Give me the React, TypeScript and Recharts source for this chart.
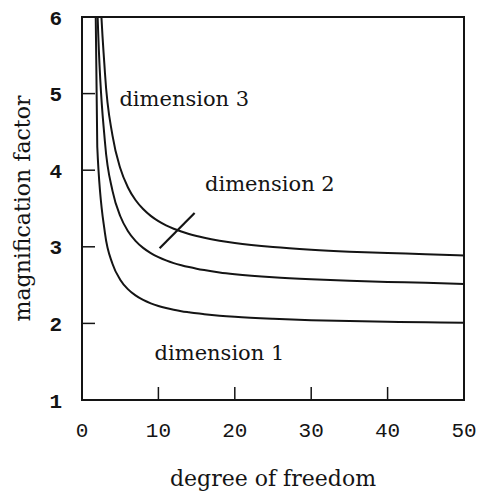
import { LineChart, Line, XAxis, YAxis, ReferenceArea, ReferenceLine, ReferenceDot } from 'recharts';

// degrees of freedom and magnification factor per dimension
const dof = [1, 2, 3, 4, 5, 6, 7, 8, 9, 10, 11, 12, 13, 14, 15, 16, 18, 20, 25, 30, 35, 40, 45, 50];
const dim1 = [12.71, 4.303, 3.182, 2.776, 2.571, 2.447, 2.365, 2.306, 2.262, 2.228, 2.201, 2.179, 2.160, 2.145, 2.131, 2.120, 2.101, 2.086, 2.060, 2.042, 2.030, 2.021, 2.014, 2.009];
const dim2 = [19.97, 6.164, 4.371, 3.727, 3.402, 3.207, 3.078, 2.986, 2.918, 2.865, 2.822, 2.787, 2.759, 2.735, 2.714, 2.696, 2.666, 2.643, 2.602, 2.575, 2.556, 2.542, 2.531, 2.515];
const dim3 = [25.44, 7.582, 5.276, 4.447, 4.028, 3.778, 3.611, 3.493, 3.404, 3.335, 3.280, 3.236, 3.199, 3.167, 3.140, 3.117, 3.079, 3.049, 2.996, 2.961, 2.936, 2.918, 2.904, 2.885];

const xTicks = [0, 10, 20, 30, 40, 50];
const yTicks = [1, 2, 3, 4, 5, 6];

// annotation anchors in data units (left edge, baseline)
const labels = [
  { text: 'dimension 3', x: 4.9, y: 4.84 },
  { text: 'dimension 2', x: 16.1, y: 3.73 },
  { text: 'dimension 1', x: 9.5, y: 1.52 },
];
const pointer = [
  { x: 10.16, y: 2.98 },
  { x: 14.74, y: 3.44 },
];

const data = dof.map((df, i) => ({ df, d1: dim1[i], d2: dim2[i], d3: dim3[i] }));

const INK = '#141414';
const SERIF = '"DejaVu Serif", "Liberation Serif", serif';
const MONO = '"Liberation Mono", "DejaVu Sans Mono", monospace';

const XTick = ({ x, y, payload }: any) => (
  <text x={x} y={y} dy="0.7em" textAnchor="middle" fill={INK} fontFamily={MONO} fontSize={21}>
    {payload.value}
  </text>
);

const YTick = ({ x, y, payload }: any) => (
  <text x={x} y={y} dy="0.36em" textAnchor="end" fill={INK} fontFamily={MONO} fontSize={21} fontWeight="bold">
    {payload.value}
  </text>
);

export default function App() {
  return (
    <div style={{ position: 'absolute', left: 0, top: 0, background: '#fff' }}>
      <LineChart width={478} height={496} data={data} margin={{ top: 17, right: 14, bottom: 0, left: 0 }}>
        <XAxis
          type="number"
          dataKey="df"
          domain={[0, 50]}
          ticks={xTicks}
          height={96}
          axisLine={false}
          tickSize={-13}
          tickMargin={35}
          tickLine={{ stroke: INK, strokeWidth: 1.5 }}
          tick={XTick}
          label={{ value: 'degree of freedom', position: 'insideBottom', offset: 10, fill: INK, fontFamily: SERIF, fontSize: 22 }}
        />
        <YAxis
          type="number"
          domain={[1, 6]}
          ticks={yTicks}
          allowDataOverflow
          width={82}
          axisLine={false}
          tickSize={-13}
          tickMargin={33}
          tickLine={{ stroke: INK, strokeWidth: 1.5 }}
          tick={YTick}
          label={{
            content: ({ viewBox }: any) => {
              const cx = viewBox.x + 30;
              const cy = viewBox.y + viewBox.height / 2;
              return (
                <text x={cx} y={cy} transform={`rotate(-90, ${cx}, ${cy})`} textAnchor="middle" fill={INK} fontFamily={SERIF} fontSize={22}>
                  magnification factor
                </text>
              );
            },
          }}
        />
        <ReferenceArea x1={0} x2={50} y1={1} y2={6} fill="none" fillOpacity={0} stroke={INK} strokeWidth={2} />
        <Line type="monotone" dataKey="d1" stroke={INK} strokeWidth={2} dot={false} isAnimationActive={false} />
        <Line type="monotone" dataKey="d2" stroke={INK} strokeWidth={2} dot={false} isAnimationActive={false} />
        <Line type="monotone" dataKey="d3" stroke={INK} strokeWidth={2} dot={false} isAnimationActive={false} />
        <ReferenceLine segment={pointer} stroke={INK} strokeWidth={2.2} />
        {labels.map((l) => (
          <ReferenceDot
            key={l.text}
            x={l.x}
            y={l.y}
            r={0}
            fill="none"
            stroke="none"
            label={{
              content: ({ viewBox }: any) => (
                <text x={viewBox.x} y={viewBox.y} fill={INK} fontFamily={SERIF} fontSize={21}>
                  {l.text}
                </text>
              ),
            }}
          />
        ))}
      </LineChart>
    </div>
  );
}
